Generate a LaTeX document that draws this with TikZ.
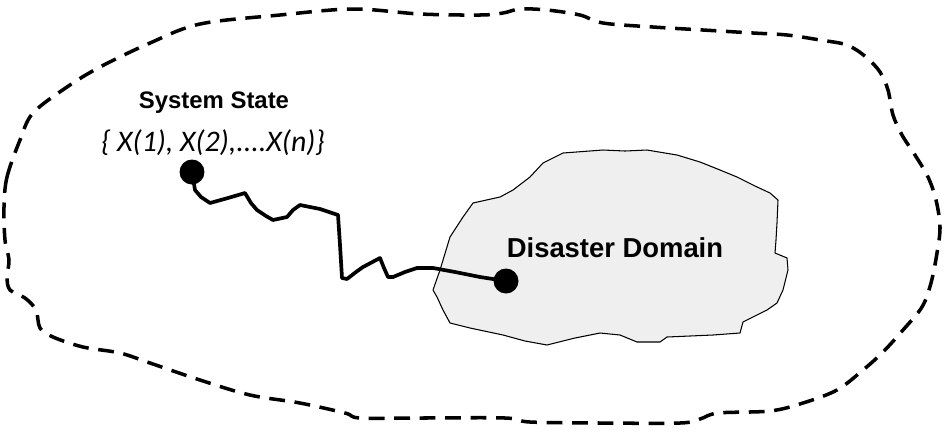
\documentclass[tikz,border=0pt]{standalone}
\usepackage{fontspec}
\setmainfont{Liberation Sans}
\newfontfamily\setfont{Carlito}
\usetikzlibrary{calc}
\definecolor{domaingray}{RGB}{239,239,239}
\begin{document}
\begin{tikzpicture}[x=0.02cm,y=-0.02cm,
    boundary/.style={line width=2pt,dash pattern=on 9pt off 5.5pt},
    zone/.style={draw=black,line width=0.6pt,fill=domaingray,line join=round},
    walk/.style={line width=2.1pt,line join=round,line cap=round},
    dot/.style={circle,fill=black,inner sep=0pt,minimum size=0.5cm},
    statetitle/.style={font=\bfseries\fontsize{13.6}{16}\selectfont},
    stateset/.style={font=\setfont\itshape\fontsize{17}{20}\selectfont},
    zonelabel/.style={font=\bfseries\fontsize{15.6}{18}\selectfont}]
      \useasboundingbox (0,0) rectangle (950,434);
      \draw[boundary] plot[smooth cycle,tension=0.55] coordinates {
        (4,207) (7,177) (20,140) (33,113) (67,87) (100,67) (150,43) (200,24)
        (280,15) (353,9) (420,14) (480,15) (503,13) (520,9) (547,10) (580,15)
        (603,23) (653,27) (703,30) (753,33) (787,35) (820,40) (847,45) (866,57)
        (880,72) (888,90) (893,115) (902,135) (915,155) (928,177) (936,200)
        (940,227) (937,253) (931,283) (922,307) (903,330) (883,352) (863,370)
        (837,390) (803,403) (770,411) (718,413) (700,419) (680,423) (600,423)
        (530,422) (505,418) (420,418) (360,418) (345,413) (300,403) (250,395)
        (200,380) (150,363) (120,353) (83,347) (53,337) (40,328) (36,310)
        (25,298) (10,290) (7,277) (9,260) (5,240)};
      \draw[zone] (563,153) -- (603,150) -- (625,151) -- (647,150) -- (677,155)
        -- (700,162) -- (720,170) -- (737,177) -- (755,186) -- (770,193)
        -- (778,200) -- (777,223) -- (776,240) -- (775,253) -- (787,258)
        -- (788,270) -- (783,290) -- (777,303) -- (767,310) -- (743,322)
        -- (740,333) -- (713,335) -- (667,337) -- (660,342) -- (637,342)
        -- (620,335) -- (600,333) -- (575,338) -- (547,345) -- (525,341)
        -- (503,335) -- (470,328) -- (450,323) -- (443,310) -- (437,297)
        -- (433,290) -- (440,270) -- (450,237) -- (463,217) -- (473,203)
        -- (500,197) -- (513,190) -- (530,177) -- (543,163) -- cycle;
      \node[statetitle] (sstitle) at (214,103) {System State};
      \node[stateset] (ssset) at (213,143) {\{ X(1), X(2),....X(n)\}};
      \node[zonelabel] (ddlabel) at (615,248) {Disaster Domain};
      \node[dot] (start) at (192,172) {};
      \node[dot] (finish) at (506,281) {};
      \draw[walk] (start.center) -- (195,190) -- (201,197) -- (210,203)
        -- (228,198) -- (245,193) -- (251,203) -- (257,210) -- (266,216)
        -- (273,220) -- (287,217) -- (293,210) -- (300,205) -- (320,209)
        -- (338,215) -- (340,245) -- (342,278) -- (347,279) -- (356,272)
        -- (363,267) -- (380,258) -- (384,268) -- (388,277) -- (393,277)
        -- (405,272) -- (417,268) -- (433,268) -- (455,272) -- (480,277)
        -- (finish.center);
    \end{tikzpicture}
\end{document}
